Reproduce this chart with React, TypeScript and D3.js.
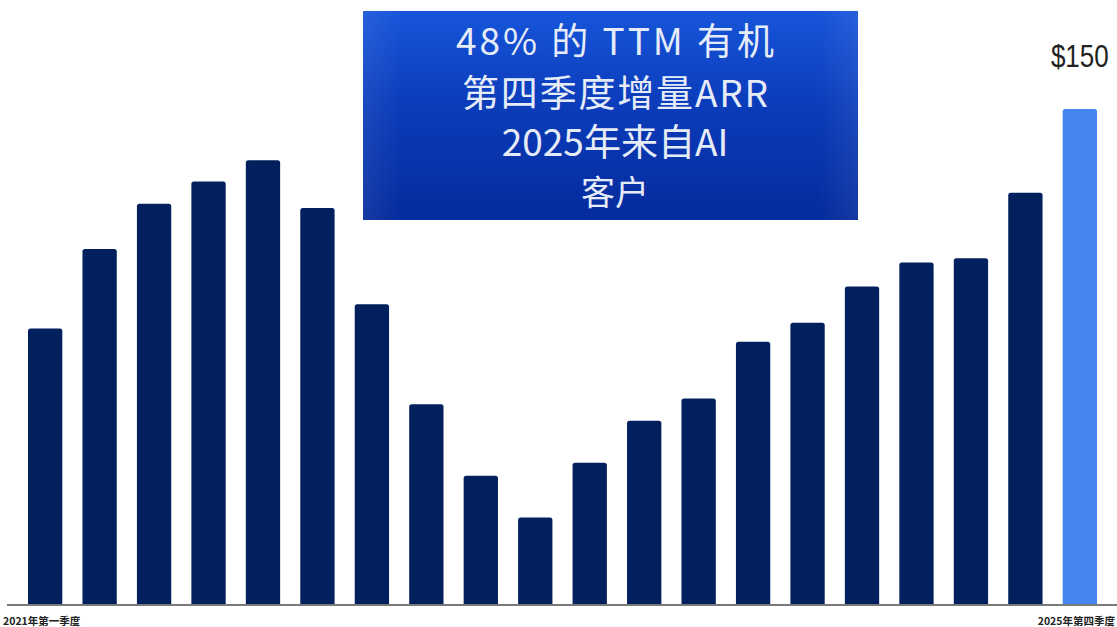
import React from "react";
import * as d3 from "d3";

const quarters = [
  "2021Q1", "2021Q2", "2021Q3", "2021Q4",
  "2022Q1", "2022Q2", "2022Q3", "2022Q4",
  "2023Q1", "2023Q2", "2023Q3", "2023Q4",
  "2024Q1", "2024Q2", "2024Q3", "2024Q4",
  "2025Q1", "2025Q2", "2025Q3", "2025Q4",
];
const values = [
  83.5, 107.6, 121.3, 128, 134.5, 120, 90.8, 60.5, 38.9, 26.2,
  42.8, 55.5, 62.3, 79.5, 85.2, 96.2, 103.5, 104.8, 124.6, 150,
];
const firstLabel = "2021年第一季度";
const lastLabel = "2025年第四季度";
const valueLabel = "$150";
const titleLines = ["48% 的 TTM 有机", "第四季度增量ARR", "2025年来自AI", "客户"];

const W = 1117;
const H = 627;

export default function App() {
  const x = d3
    .scaleBand<string>()
    .domain(quarters)
    .range([28, 1097])
    .paddingInner(0.37)
    .paddingOuter(0);
  const y = d3.scaleLinear().domain([0, 150]).range([604, 109]);
  const bw = x.bandwidth();
  const last = quarters[quarters.length - 1];

  const barPath = (xs: number, ys: number, w: number, h: number, r: number) =>
    `M${xs},${ys + h}V${ys + r}Q${xs},${ys} ${xs + r},${ys}H${xs + w - r}Q${xs + w},${ys} ${xs + w},${ys + r}V${ys + h}Z`;

  const titleY = [55, 107, 156, 205];
  const titleLen: (number | undefined)[] = [318, 306, undefined, undefined];
  const lx = x(last)! + bw / 2;

  return (
    <svg
      width={W}
      height={H}
      style={{ position: "absolute", left: 0, top: 0, background: "#fff" }}
      fontFamily="'Noto Sans CJK SC', 'Noto Sans', sans-serif"
    >
      <defs>
        <linearGradient id="boxV" x1="0" y1="0" x2="0" y2="1">
          <stop offset="0%" stopColor="#1755da" />
          <stop offset="45%" stopColor="#0b3cba" />
          <stop offset="100%" stopColor="#052b9c" />
        </linearGradient>
        <linearGradient id="boxH" x1="0" y1="0" x2="1" y2="0">
          <stop offset="0%" stopColor="#ffffff" stopOpacity="0.07" />
          <stop offset="8%" stopColor="#ffffff" stopOpacity="0" />
          <stop offset="92%" stopColor="#ffffff" stopOpacity="0" />
          <stop offset="100%" stopColor="#ffffff" stopOpacity="0.07" />
        </linearGradient>
      </defs>

      {quarters.map((q, i) => {
        const v = values[i];
        const xs = x(q)!;
        const ys = y(v);
        const h = y(0) - ys;
        return (
          <path
            key={q}
            d={barPath(xs, ys, bw, h, 2.5)}
            fill={q === last ? "#4485ef" : "#03205e"}
          />
        );
      })}

      <line x1={7} x2={1117} y1={605} y2={605} stroke="#7a7a7a" strokeWidth={2} />

      <text x={3} y={625} fontSize={10.5} fontWeight={600} fill="#222">
        {firstLabel}
      </text>
      <text x={1115} y={625} fontSize={10.5} fontWeight={600} fill="#222" textAnchor="end">
        {lastLabel}
      </text>

      <g transform={`translate(${lx},67) scale(0.84,1)`}>
        <text
          x={0}
          y={0}
          fontSize={31}
          fontFamily="'Liberation Sans', Arial, sans-serif"
          fill="#222"
          textAnchor="middle"
        >
          {valueLabel}
        </text>
      </g>

      <rect x={363} y={11} width={495} height={209} fill="url(#boxV)" />
      <rect x={363} y={11} width={495} height={209} fill="url(#boxH)" />
      {titleLines.map((t, i) => (
        <text
          key={i}
          x={615}
          y={titleY[i]}
          fontSize={i === 3 ? 34 : 37}
          fill="#e6ecf7"
          textAnchor="middle"
          textLength={titleLen[i]}
          lengthAdjust={titleLen[i] ? "spacing" : undefined}
        >
          {t}
        </text>
      ))}
    </svg>
  );
}
